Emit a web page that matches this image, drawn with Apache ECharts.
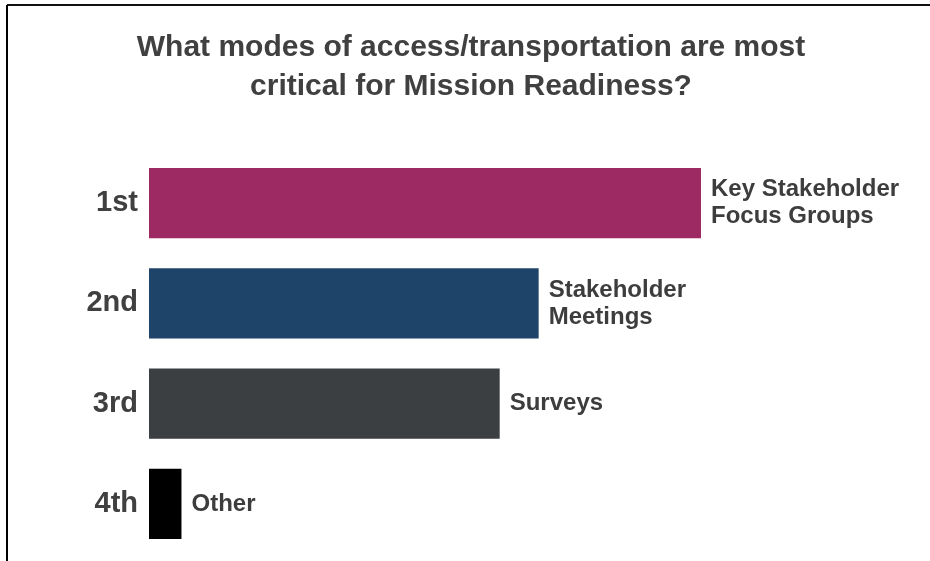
<!DOCTYPE html>
<html>
<head>
<meta charset="utf-8">
<script src="https://cdn.jsdelivr.net/npm/echarts@6/dist/echarts.min.js"></script>
<style>
html,body{margin:0;padding:0;background:#fff;}
#chart{width:930px;height:561px;}
</style>
</head>
<body>
<div id="chart"></div>
<script>
const titleText = 'What modes of access/transportation are most\ncritical for Mission Readiness?';
const ranks = ['1st', '2nd', '3rd', '4th'];
const modes = ['Key Stakeholder\nFocus Groups', 'Stakeholder\nMeetings', 'Surveys', 'Other'];
const values = [17, 12, 10.8, 1];
const colors = ['#9D2A62', '#1F4469', '#3C3F41', '#000000'];

const FONT = '"Liberation Sans", Arial, Helvetica, sans-serif';
const chart = echarts.init(document.getElementById('chart'), null, {renderer: 'canvas'});

chart.setOption({
  backgroundColor: '#ffffff',
  animation: false,
  title: {
    text: titleText,
    left: 471,
    textAlign: 'center',
    top: 28,
    padding: 0,
    textStyle: {
      fontFamily: FONT,
      fontSize: 30,
      fontWeight: 'bold',
      color: '#404040',
      lineHeight: 39
    }
  },
  graphic: [
    {type: 'line', shape: {x1: 7, y1: 5, x2: 930, y2: 5}, style: {stroke: '#111', lineWidth: 2}},
    {type: 'line', shape: {x1: 7, y1: 5, x2: 7, y2: 561}, style: {stroke: '#000', lineWidth: 2}}
  ],
  grid: {left: 149, right: 229, top: 153, bottom: 7, containLabel: false},
  xAxis: {
    type: 'value',
    min: 0,
    max: 17,
    show: false
  },
  yAxis: {
    type: 'category',
    data: ranks,
    inverse: true,
    axisLine: {show: false},
    axisTick: {show: false},
    splitLine: {show: false},
    axisLabel: {
      margin: 11,
      fontFamily: FONT,
      fontSize: 29,
      fontWeight: 'bold',
      color: '#404040'
    }
  },
  series: [{
    type: 'bar',
    data: values.map((v, i) => ({
      value: v,
      name: modes[i],
      itemStyle: {color: colors[i]}
    })),
    barCategoryGap: '30%',
    label: {
      show: true,
      position: 'right',
      distance: 10,
      formatter: (p) => modes[p.dataIndex],
      fontFamily: FONT,
      fontSize: 24,
      fontWeight: 'bold',
      color: '#3d3d3d',
      lineHeight: 27,
      align: 'left'
    }
  }]
});
</script>
</body>
</html>
